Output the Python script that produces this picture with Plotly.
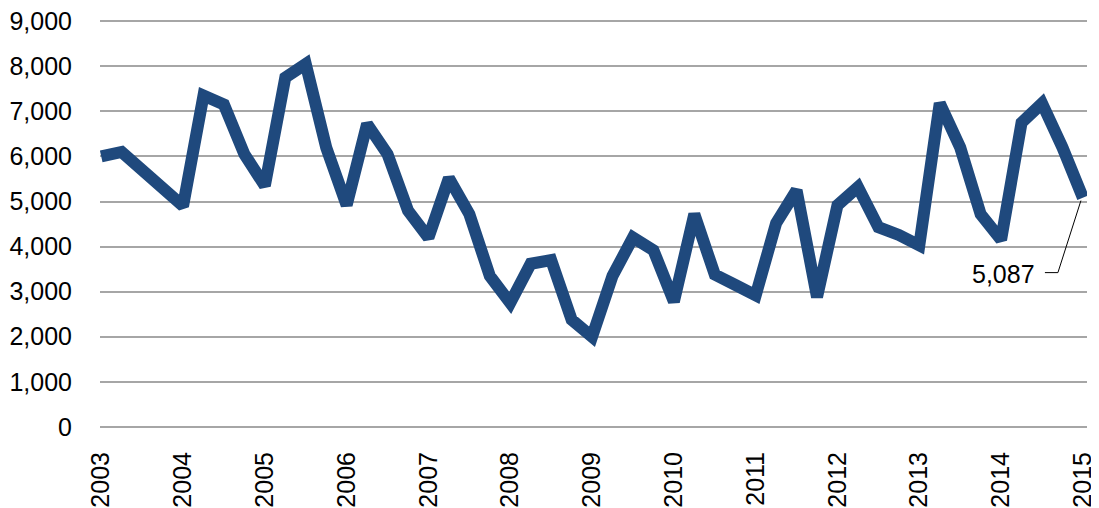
import plotly.graph_objects as go

# quarterly values, 2003 Q1 .. 2015 Q1
quarters = [2003 + i / 4 for i in range(49)]
values = [
    6000, 6100, 5700, 5300,   # 2003
    4900, 7350, 7150, 6050,   # 2004
    5350, 7750, 8050, 6200,   # 2005
    4920, 6720, 6050, 4800,   # 2006
    4200, 5520, 4720, 3350,   # 2007
    2750, 3620, 3700, 2380,   # 2008
    2000, 3350, 4200, 3920,   # 2009
    2780, 4720, 3380, 3150,   # 2010
    2920, 4520, 5250, 2880,   # 2011
    4920, 5320, 4430, 4260,   # 2012
    4030, 7180, 6200, 4720,   # 2013
    4150, 6750, 7180, 6200,   # 2014
    5087,                     # 2015
]
years = list(range(2003, 2016))
yticks = list(range(0, 10000, 1000))

last_x = quarters[-1]
last_y = values[-1]

fig = go.Figure()
fig.add_trace(go.Scatter(
    x=quarters, y=values, mode="lines",
    line=dict(color="#1f497d", width=12),
    hoverinfo="skip",
))

# label for the last point with a bent leader line
fig.add_annotation(
    x=last_x, y=last_y, text=f"{last_y:,}", showarrow=False,
    xanchor="right", yanchor="middle", xshift=-46, yshift=-76,
    font=dict(size=25, color="#000000"),
)
fig.add_shape(
    type="path", xref="x", yref="y",
    xsizemode="pixel", ysizemode="pixel",
    xanchor=last_x, yanchor=last_y,
    path="M -38,-75 L -25,-75 L -2,-3",
    line=dict(color="#000000", width=1),
)

# page body adds an 8px margin, so the figure is a bit smaller than the window
fig.update_layout(
    width=1091, height=500,
    margin=dict(l=92, r=12, t=11, b=80),
    paper_bgcolor="white", plot_bgcolor="white",
    showlegend=False,
    font=dict(family="Liberation Sans, Arial, sans-serif", size=25, color="#000000"),
)
fig.update_xaxes(
    range=[2002.985, 2015.05], automargin=False, ticklabeloverflow="allow",
    tickvals=years, ticktext=[str(y) for y in years],
    tickangle=-90, showgrid=False, zeroline=False, showline=False,
    ticks="outside", ticklen=13, tickcolor="white",
)
fig.update_yaxes(
    range=[-25, 9050], tickvals=yticks, tickformat=",", automargin=False,
    ticklabeloverflow="allow",
    showgrid=True, gridcolor="#a6a6a6", gridwidth=2,
    zeroline=True, zerolinecolor="#a6a6a6", zerolinewidth=2, showline=False,
    ticks="outside", ticklen=22, tickcolor="white",
)

fig.write_html("out.html")
